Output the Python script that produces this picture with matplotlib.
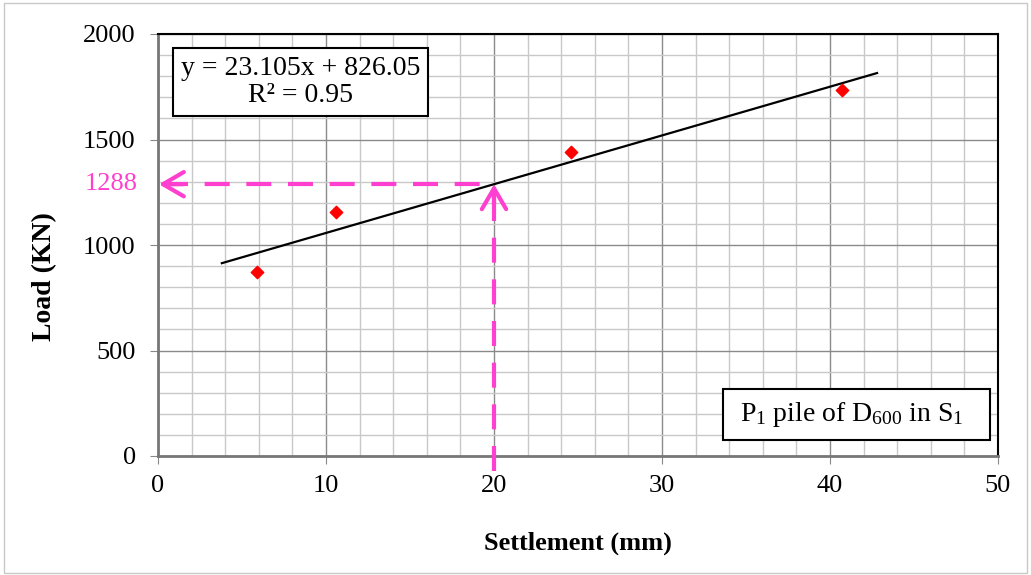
import numpy as np
import matplotlib.pyplot as plt
from matplotlib.patches import Rectangle

# pile load test P1, D600, S1
settlement = [5.9, 10.6, 24.6, 40.7]
load = [872, 1157, 1441, 1735]
slope, icpt = 23.105, 826.05
fit_x = [3.8, 42.8]
s_target = 20
load_target = slope * s_target + icpt  # ~1288

pink = '#ff3fd0'

plt.rcParams['font.family'] = ['Liberation Serif', 'DejaVu Serif']
plt.rcParams['mathtext.fontset'] = 'custom'
plt.rcParams['mathtext.rm'] = 'Liberation Serif'
plt.rcParams['mathtext.it'] = 'Liberation Serif:italic'

fig = plt.figure(figsize=(10.31, 5.75), dpi=100)
ax = fig.add_axes([158/1031, 1 - 456/575, 840/1031, 422/575])

fig.patches.append(Rectangle((0.004, 0.004), 0.992, 0.99, transform=fig.transFigure,
                             fill=False, edgecolor='#c8c8c8', lw=1))

ax.set_xlim(0, 50)
ax.set_ylim(0, 2000)
ax.set_xticks(np.arange(0, 51, 10))
ax.set_yticks(np.arange(0, 2001, 500))
ax.set_xticks(np.arange(0, 51, 2), minor=True)
ax.set_yticks(np.arange(0, 2001, 100), minor=True)
ax.grid(which='major', color='#8a8a8a', lw=1.0)
ax.grid(which='minor', color='#c8c8c8', lw=1.0)
ax.set_axisbelow(True)
ax.tick_params(which='minor', length=0)
ax.tick_params(which='major', length=6, color='#888888', labelsize=19)
ax.tick_params(axis='x', pad=8)
ax.tick_params(axis='y', pad=10)
for side in ['left', 'bottom']:
    ax.spines[side].set_color('#777777')
    ax.spines[side].set_linewidth(2)
for side in ['top', 'right']:
    ax.spines[side].set_color('black')
    ax.spines[side].set_linewidth(1.5)

xs = np.array(fit_x)
ax.plot(xs, slope * xs + icpt, color='black', lw=1.6, zorder=3)
ax.scatter(settlement, load, marker='D', s=40, color='red', zorder=4)

# dashed guides
ax.plot([s_target, s_target], [-70, load_target - 30], color=pink, lw=3,
        ls=(0, (6, 4)), clip_on=False, zorder=5)
ax.plot([0.3, s_target], [load_target, load_target], color=pink, lw=3,
        ls=(0, (6, 4)), zorder=5)
ax.annotate('', xy=(s_target, load_target), xytext=(s_target, load_target - 100),
            arrowprops=dict(arrowstyle='->,head_length=0.6,head_width=0.35', color=pink,
                            lw=3, mutation_scale=25, shrinkA=0, shrinkB=0), zorder=6)
ax.annotate('', xy=(0.05, load_target), xytext=(1.5, load_target),
            arrowprops=dict(arrowstyle='->,head_length=0.6,head_width=0.35', color=pink,
                            lw=3, mutation_scale=25, shrinkA=0, shrinkB=0), zorder=6)
ax.text(-1.2, load_target, f'{load_target:.0f}', color=pink, fontsize=19,
        ha='right', va='center')

ax.text(8.5, 1772, f'y = {slope}x + {icpt}\nR² = 0.95', fontsize=20, ha='center',
        va='center', linespacing=1.1,
        bbox=dict(boxstyle='square,pad=0.28', fc='white', ec='black', lw=1.5))

# label box, lower right
ax.add_patch(Rectangle((0.673, 0.038), 0.317, 0.121, transform=ax.transAxes,
                       fc='white', ec='black', lw=1.5, zorder=6))
ax.text(0.826, 0.098, r'P$_1$ pile of D$_{600}$ in S$_1$', fontsize=20, ha='center',
        va='center', transform=ax.transAxes, zorder=7)

fig.text(578/1031, 1 - 543/575, 'Settlement (mm)', fontsize=19, fontweight='bold',
         ha='center', va='center')
fig.text(45/1031, 1 - 277/575, 'Load (KN)', fontsize=20, fontweight='bold',
         ha='center', va='center', rotation=90)

fig.savefig('out.png', dpi=100)
